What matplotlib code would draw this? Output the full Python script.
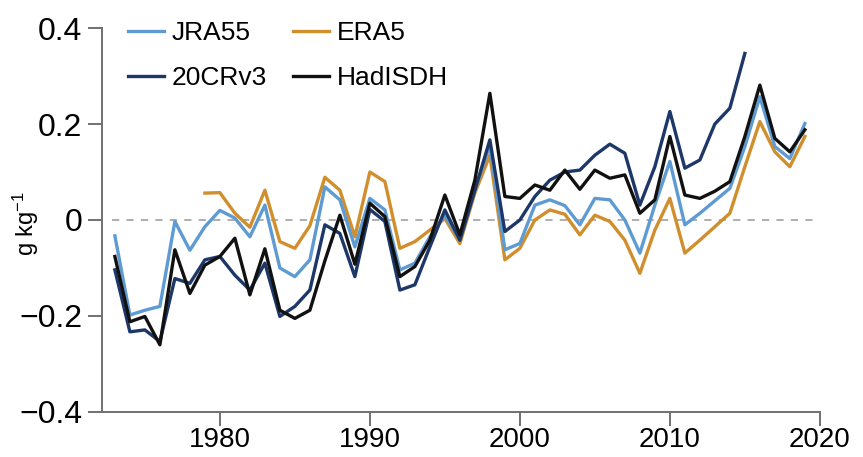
import matplotlib
matplotlib.use('Agg')
import matplotlib.pyplot as plt

plt.rcParams['font.family'] = ['Liberation Sans', 'DejaVu Sans']
plt.rcParams['mathtext.default'] = 'regular'

# 年份
years = list(range(1973, 2020))
years_era5 = list(range(1979, 2020))
years_20cr = list(range(1973, 2016))

# 比湿距平 (g/kg)
jra55 = [-0.033, -0.198, -0.188, -0.18, -0.003, -0.063, -0.014, 0.02, 0.004, -0.035,
         0.031, -0.1, -0.118, -0.083, 0.069, 0.042, -0.056, 0.045, 0.021, -0.104,
         -0.09, -0.035, 0.01, -0.042, 0.062, 0.156, -0.062, -0.049, 0.031, 0.042,
         0.03, -0.01, 0.045, 0.042, 0.0, -0.069, 0.031, 0.122, -0.01, 0.014,
         0.04, 0.066, 0.153, 0.257, 0.153, 0.128, 0.201]
era5 = [0.056, 0.057, 0.014, -0.015, 0.062, -0.045, -0.059, -0.012, 0.089, 0.062,
        -0.035, 0.1, 0.08, -0.059, -0.045, -0.021, 0.003, -0.049, 0.056, 0.135,
        -0.083, -0.059, 0.0, 0.021, 0.012, -0.031, 0.01, -0.003, -0.042, -0.111,
        -0.021, 0.045, -0.069, -0.042, -0.014, 0.014, 0.111, 0.205, 0.142, 0.111,
        0.174]
cr20v3 = [-0.104, -0.233, -0.229, -0.253, -0.122, -0.132, -0.083, -0.076, -0.115, -0.146,
          -0.09, -0.201, -0.18, -0.146, -0.01, -0.028, -0.118, 0.022, -0.003, -0.146,
          -0.135, -0.056, 0.021, -0.042, 0.062, 0.167, -0.024, 0.0, 0.049, 0.083,
          0.1, 0.104, 0.135, 0.158, 0.139, 0.031, 0.111, 0.226, 0.108, 0.125,
          0.2, 0.233, 0.347]
hadisdh = [-0.076, -0.212, -0.201, -0.26, -0.062, -0.153, -0.094, -0.076, -0.038, -0.156,
           -0.06, -0.188, -0.205, -0.188, -0.085, 0.01, -0.092, 0.035, 0.007, -0.118,
           -0.097, -0.042, 0.052, -0.031, 0.083, 0.264, 0.049, 0.045, 0.073, 0.062,
           0.104, 0.064, 0.104, 0.087, 0.094, 0.014, 0.042, 0.174, 0.052, 0.045,
           0.06, 0.08, 0.174, 0.281, 0.17, 0.142, 0.188]

xticks = [1980, 1990, 2000, 2010, 2020]
yticks = [-0.4, -0.2, 0, 0.2, 0.4]
ytick_labels = ['\u22120.4', '\u22120.2', '0', '0.2', '0.4']

fig = plt.figure(figsize=(8.63, 4.57), dpi=100)
ax = fig.add_axes([0.118, 0.0985, 0.832, 0.8402])

# 零线
ax.hlines(0, years[0] - 0.2, years[-1] + 0.6, colors='#a8a8a8', linestyles=(0, (4, 4)), lw=1.3, zorder=1)

l1, = ax.plot(years, jra55, color='#5f9bd3', lw=2.4, label='JRA55', zorder=3)
l2, = ax.plot(years_era5, era5, color='#d08e2c', lw=2.4, label='ERA5', zorder=2)
l3, = ax.plot(years_20cr, cr20v3, color='#1d3868', lw=2.4, label='20CRv3', zorder=4)
l4, = ax.plot(years, hadisdh, color='#111111', lw=2.4, label='HadISDH', zorder=5)

ax.set_xlim(1972.13, 2020)
ax.set_ylim(-0.4, 0.4)
ax.set_xticks(xticks)
ax.set_yticks(yticks)
ax.set_yticklabels(ytick_labels)
ax.tick_params(axis='both', direction='out', length=10, width=1.4, color='#707070')
ax.tick_params(axis='y', labelsize=23, pad=4)
ax.tick_params(axis='x', labelsize=20, pad=1)

for s in ['top', 'right']:
    ax.spines[s].set_visible(False)
for s in ['left', 'bottom']:
    ax.spines[s].set_color('#707070')
    ax.spines[s].set_linewidth(1.4)

ax.set_ylabel('g kg$^{-1}$', fontsize=17)
ax.yaxis.set_label_coords(-0.085, 0.49)

fig.legend(handles=[l1, l3, l2, l4], ncol=2, frameon=False, fontsize=19,
           loc='upper left', bbox_to_anchor=(128 / 863, 1 - 21 / 457),
           borderpad=0, borderaxespad=0, handlelength=1.35, handletextpad=0.3,
           columnspacing=1.0, labelspacing=0.8)

plt.savefig('out.png', dpi=100)
